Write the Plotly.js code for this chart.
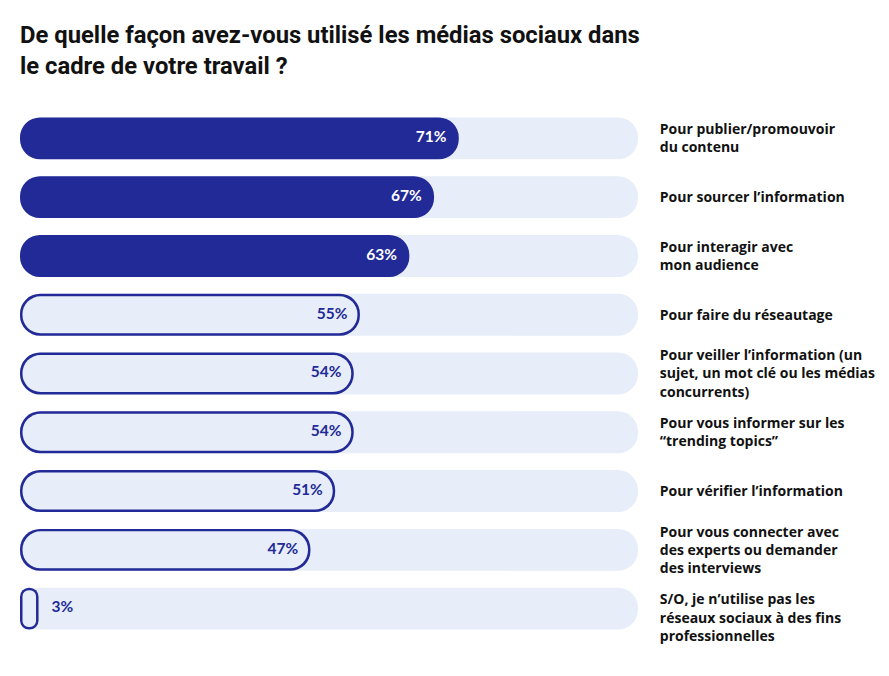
<!DOCTYPE html>
<html><head><meta charset="utf-8">
<script src="https://cdn.plot.ly/plotly-3.0.1.min.js"></script>
<style>body{margin:0;background:#fff}</style></head>
<body>
<div id="chart" style="width:889px;height:676px"></div>
<script>
const categories = [
  "Pour publier/promouvoir<br>du contenu",
  "Pour sourcer l’information",
  "Pour interagir avec<br>mon audience",
  "Pour faire du réseautage",
  "Pour veiller l’information (un<br>sujet, un mot clé ou les médias<br>concurrents)",
  "Pour vous informer sur les<br>“trending topics”",
  "Pour vérifier l’information",
  "Pour vous connecter avec<br>des experts ou demander<br>des interviews",
  "S/O, je n’utilise pas les<br>réseaux sociaux à des fins<br>professionnelles"
];
const values = [71, 67, 63, 55, 54, 54, 51, 47, 3];
const valueLabels = ["71%", "67%", "63%", "55%", "54%", "54%", "51%", "47%", "3%"];
const filledCount = 3;
const fullScale = 100;

const DARK = "#212a96", LIGHT = "#e8eef9";
const rowPx = 58.9, outerPx = 42, border = 2.5, pxPerUnit = 618 / 100;
const outerW = outerPx / rowPx, innerW = (outerPx - 2 * border) / rowPx;
const d = border / pxPerUnit;

function pill(ys, starts, ends, width, color, r) {
  return {type: "bar", orientation: "h", y: ys, base: starts, x: ends.map((e, i) => e - starts[i]),
    width: width, marker: {color: color, cornerradius: r, line: {width: 0}},
    hoverinfo: "skip", showlegend: false};
}

const traces = [];
traces.push(pill(categories, categories.map(() => 0), categories.map(() => fullScale), outerW, LIGHT, outerPx / 2));
traces.push(pill(categories, values.map(() => 0), values, outerW, DARK, outerPx / 2));
const oi = values.map((v, i) => i).filter(i => i >= filledCount);
traces.push(pill(oi.map(i => categories[i]), oi.map(() => d), oi.map(i => values[i] - d), innerW, LIGHT, outerPx / 2 - border));

traces.push({
  type: "scatter", mode: "text", y: categories,
  x: values.map(v => v < 10 ? v + 2.1 : v - 2.0),
  text: valueLabels,
  textposition: values.map(v => v < 10 ? "middle right" : "middle left"),
  textfont: {family: "Lato, sans-serif", size: 15.5, weight: "bold",
    color: values.map((v, i) => i < filledCount ? "#ffffff" : DARK)},
  cliponaxis: false, hoverinfo: "skip", showlegend: false
});

// tick label text (last label sits a little lower in the original layout)
const tickText = categories.map((c, i) => i === categories.length - 1 ? "<br>" + c : c);

const layout = {
  width: 889, height: 676,
  margin: {l: 20, r: 251, t: 108.5, b: 37.5},
  paper_bgcolor: "#fff", plot_bgcolor: "#fff",
  barmode: "overlay",
  title: {
    text: "De quelle façon avez-vous utilisé les médias sociaux dans<br>le cadre de votre travail ?",
    x: 20 / 889, xanchor: "left", xref: "container",
    y: 1 - 43 / 676, yanchor: "top", yref: "container",
    font: {family: "Roboto, sans-serif", size: 23.8, weight: "bold", color: "#111"}
  },
  xaxis: {range: [0, 100], visible: false, fixedrange: true},
  yaxis: {type: "category", autorange: "reversed", side: "right", showgrid: false, zeroline: false,
    showline: false, ticks: "outside", ticklen: 18, tickcolor: "rgba(0,0,0,0)",
    tickmode: "array", tickvals: categories, ticktext: tickText,
    tickfont: {family: "Open Sans, sans-serif", size: 14, weight: "bold", color: "#111"}, fixedrange: true},
  showlegend: false
};
Plotly.newPlot("chart", traces, layout, {displayModeBar: false, staticPlot: true});
</script>
</body></html>
